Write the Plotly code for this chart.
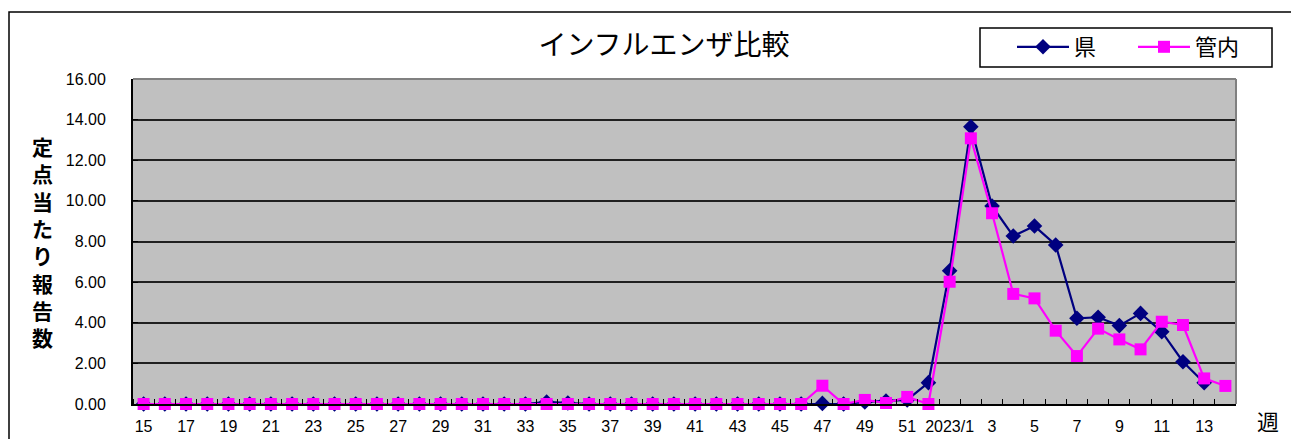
import plotly.graph_objects as go

weeks = [str(w) for w in range(15, 53)] + ["2023/1"] + [str(w) for w in range(2, 15)]

ken = ([0.0] * 19 + [0.1, 0.05] + [0.0] * 11 +
       [0.03, 0.0, 0.1, 0.15, 0.2, 1.05] +
       [6.56, 13.65, 9.75, 8.27, 8.76, 7.83, 4.22, 4.27, 3.86, 4.46, 3.56, 2.08, 1.05, None])

kannai = ([0.0] * 32 +
          [0.9, 0.0, 0.2, 0.05, 0.35, 0.0] +
          [6.02, 13.08, 9.39, 5.42, 5.2, 3.61, 2.36, 3.71, 3.18, 2.69, 4.05, 3.89, 1.26, 0.89])

series_names = ["県", "管内"]
yticks = [0, 2, 4, 6, 8, 10, 12, 14, 16]

xpos = list(range(len(weeks)))
tickvals = [v for v in xpos[::2] if v < 51]
ticktext = [weeks[v] for v in tickvals]
boundaries = [i + 0.5 for i in range(-1, len(weeks))]

fig = go.Figure()
fig.add_trace(go.Scatter(
    x=xpos, y=ken, name=series_names[0], mode="lines+markers",
    line=dict(color="#000080", width=2.2),
    marker=dict(symbol="diamond", size=12, color="#000080"),
    connectgaps=False, cliponaxis=False,
))
fig.add_trace(go.Scatter(
    x=xpos, y=kannai, name=series_names[1], mode="lines+markers",
    line=dict(color="#FF00FF", width=2.2),
    marker=dict(symbol="square", size=12, color="#FF00FF"),
    cliponaxis=False,
))

# page body has an 8px margin: work in reference pixel coords, shifted by OFF
OFF = 8
W, H = 1299 - OFF, 439 - OFF
L = 133 - OFF
T = 79 - OFF
R = W - (1236 - OFF)
B = H - (404 - OFF)
pw, ph = W - L - R, H - T - B

def px_x(x):
    return (x - OFF - L) / pw

def px_y(y):
    return (H - B - (y - OFF)) / ph

fig.update_layout(
    width=W, height=H,
    margin=dict(l=L, r=R, t=T, b=B, autoexpand=False),
    paper_bgcolor="white",
    plot_bgcolor="#C0C0C0",
    font=dict(family="Liberation Sans, Arial, sans-serif", color="black"),
    title=dict(text="インフルエンザ比較", x=(664 - OFF) / W, xanchor="center",
               y=1 - (45 - OFF) / H, yanchor="middle",
               font=dict(family="Noto Sans CJK JP", size=28, color="black")),
    showlegend=True,
    legend=dict(orientation="h", x=px_x(1012), xanchor="left", y=px_y(47), yanchor="middle",
                borderwidth=0, bgcolor="rgba(0,0,0,0)",
                font=dict(family="Noto Sans CJK JP", size=22, color="black"),
                entrywidth=54, entrywidthmode="pixels", itemwidth=52, tracegroupgap=0),
    xaxis=dict(
        range=[-0.5, len(weeks) - 0.5],
        tickmode="array", tickvals=tickvals, ticktext=ticktext,
        ticks="", showgrid=False, zeroline=False,
        showline=True, linecolor="black", linewidth=2,
        tickfont=dict(size=16, color="black"),
        ticklabelstandoff=7,
        minor=dict(tickmode="array", tickvals=boundaries, ticks="inside", ticklen=5,
                   tickcolor="black", tickwidth=1, showgrid=False),
    ),
    yaxis=dict(
        range=[0, 16], tickmode="array", tickvals=yticks,
        ticktext=[f"{v:.2f}" for v in yticks],
        ticks="inside", ticklen=5, tickcolor="black",
        showgrid=True, gridcolor="#202020", gridwidth=1.5, zeroline=False,
        showline=True, linecolor="black", linewidth=2,
        tickfont=dict(size=16, color="black"),
        ticklabelstandoff=22,
    ),
    shapes=[
        dict(type="rect", xref="paper", yref="paper", x0=px_x(9), x1=px_x(1297),
             y0=px_y(470), y1=px_y(12), line=dict(color="black", width=1.5),
             fillcolor="rgba(0,0,0,0)", layer="below"),
        dict(type="rect", xref="paper", yref="paper", x0=px_x(980), x1=px_x(1272),
             y0=px_y(67), y1=px_y(28), line=dict(color="black", width=1.5),
             fillcolor="white", layer="below"),
        dict(type="line", xref="paper", yref="paper", x0=0, x1=1, y0=1, y1=1,
             line=dict(color="#808080", width=2)),
        dict(type="line", xref="paper", yref="paper", x0=1, x1=1, y0=0, y1=1,
             line=dict(color="#808080", width=2)),
    ],
    annotations=[
        dict(text="<br>".join(list("定点当たり報告数")), xref="paper", yref="paper",
             x=px_x(43), y=px_y(241), xanchor="center", yanchor="middle",
             showarrow=False,
             font=dict(family="Noto Sans CJK JP", size=21, color="black", weight="bold")),
        dict(text="週", xref="paper", yref="paper", x=px_x(1268), y=px_y(420),
             xanchor="center", yanchor="middle", showarrow=False,
             font=dict(family="Noto Sans CJK JP", size=22, color="black")),
    ],
)

fig.write_html("out.html")
